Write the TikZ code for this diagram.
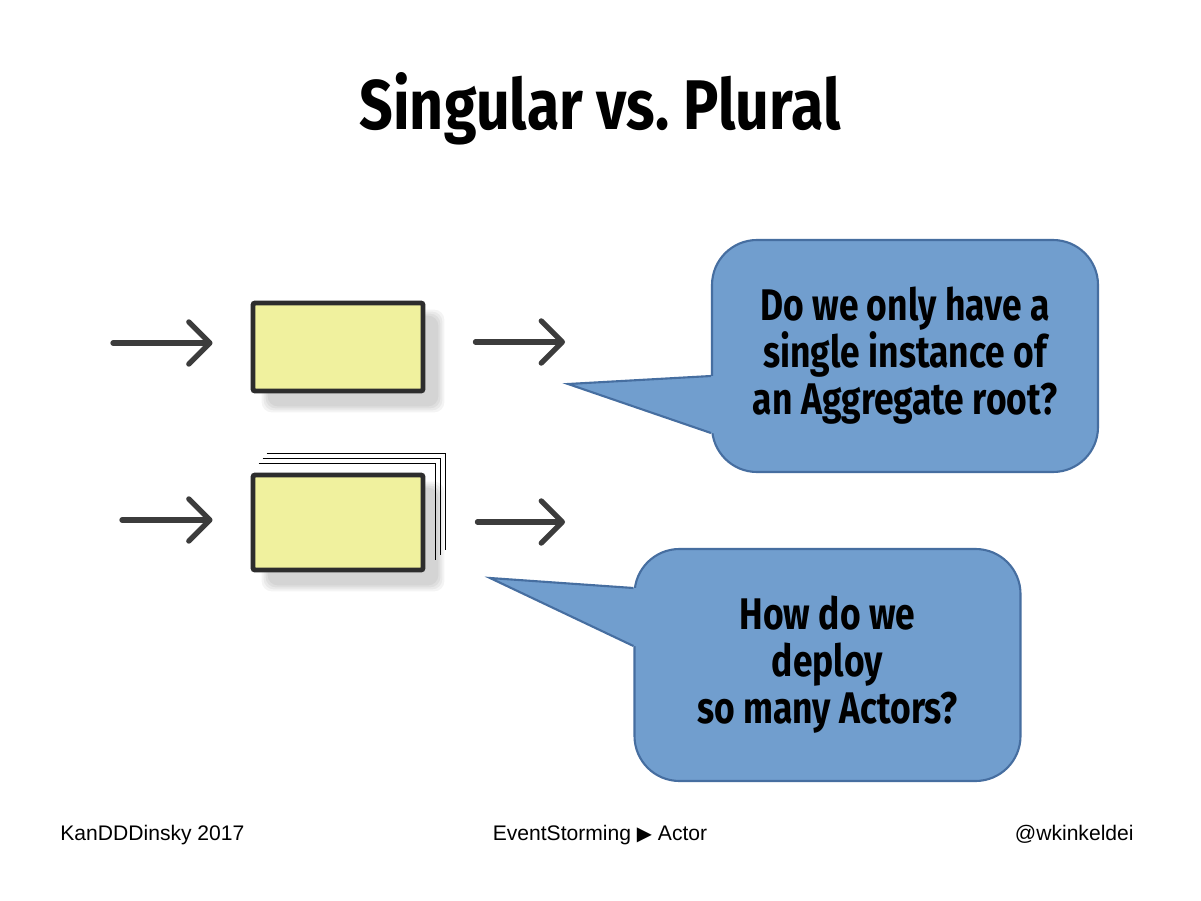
\documentclass[tikz,border=0pt]{standalone}
\usepackage{fontspec}
\setmainfont{Liberation Sans}
\newfontfamily\chalk[FakeStretch=0.80]{Fira Sans}
\newfontfamily\chalkhead[FakeStretch=0.84]{Fira Sans}
\newfontfamily\symb{DejaVu Sans}
\usetikzlibrary{arrows.meta,calc,backgrounds}
\begin{document}
\begin{tikzpicture}[
  card/.style={draw=cardline, fill=cardfill, line width=1.4pt, rounded corners=0.6pt, minimum width=1.70cm, inner sep=0pt},
  flow/.style={draw=flowgray, line width=1.5pt, line cap=round, -{Straight Barb[length=6pt,width=12pt,round]}},
  bubble/.style={draw=bubbleline, fill=bubblefill, line width=0.6pt, rounded corners=0.45cm, minimum width=3.86cm, minimum height=2.32cm, align=center, font=\chalk\bfseries\fontsize{12.6}{13.4}\selectfont},
  tail/.style={draw=bubbleline, line width=0.6pt, line join=miter},
  stackline/.style={black, line width=0.5pt},
  footer/.style={font=\fontsize{6}{7}\selectfont}
]
\definecolor{cardfill}{RGB}{240,241,158}
\definecolor{cardline}{RGB}{45,45,45}
\definecolor{flowgray}{RGB}{60,60,60}
\definecolor{bubblefill}{RGB}{113,158,206}
\definecolor{bubbleline}{RGB}{70,110,160}
\useasboundingbox (0,0) rectangle (12.01,-9.01);
\node[font=\chalkhead\bfseries\fontsize{20}{24}\selectfont, anchor=base] (title) at (6.0,-1.30) {Singular vs.\ Plural};
\node[card, minimum height=0.88cm] (b1) at (3.38,-3.47) {};
\node[card, minimum height=0.95cm] (b2) at (3.38,-5.225) {};
\begin{scope}[on background layer]
\fill[white] (0,0) rectangle (12.01,-9.01);
\foreach \b in {b1,b2}
  \foreach \s in {0,0.02,0.04,0.06}
    \fill[black, opacity=0.045, rounded corners=3pt] ($(\b.south west)+(0.11+\s,-0.19+\s)$) rectangle ($(\b.north east)+(0.19-\s,-0.09-\s)$);
\end{scope}
\foreach \k in {1,2,3}
  \draw[stackline] ($(b2.north west)+({0.04+0.04*\k},{0.04+0.05*\k})$) -| ($(b2.south east)+({0.05+0.05*\k},{0.07+0.05*\k})$);
\coordinate (in1) at (1.13,-3.43);
\coordinate (out1) at (5.65,-3.42);
\coordinate (in2) at (1.22,-5.20);
\coordinate (out2) at (5.65,-5.22);
\draw[flow, shorten >=0.38cm] (in1) -- (in1 -| b1.west);
\draw[flow, shorten <=0.50cm] (out1 -| b1.east) -- (out1);
\draw[flow, shorten >=0.38cm] (in2) -- (in2 -| b2.west);
\draw[flow, shorten <=0.52cm] (out2 -| b2.east) -- (out2);
\node[bubble] (q1) at (9.05,-3.56) {Do we only have a\\single instance of\\an Aggregate root?};
\coordinate (t1) at (5.68,-3.84);
\fill[bubblefill] ($(q1.west)+(0,-0.20)$) -- (t1) -- ($(q1.west)+(0,-0.77)$) -- ($(q1.west)+(0.05,-0.77)$) -- ($(q1.west)+(0.05,-0.20)$) -- cycle;
\draw[tail] ($(q1.west)+(0,-0.20)$) -- (t1) -- ($(q1.west)+(0,-0.77)$);
\node[bubble] (q2) at (8.275,-6.65) {How do we\\deploy\\so many Actors?};
\coordinate (t2) at (4.90,-5.78);
\fill[bubblefill] ($(q2.west)+(0,0.77)$) -- (t2) -- ($(q2.west)+(0,0.19)$) -- ($(q2.west)+(0.05,0.19)$) -- ($(q2.west)+(0.05,0.77)$) -- cycle;
\draw[tail] ($(q2.west)+(0,0.77)$) -- (t2) -- ($(q2.west)+(0,0.19)$);
\node[footer, anchor=base west] (conf) at (0.48,-8.40) {KanDDDinsky 2017};
\node[footer, anchor=base] (topic) at (6.00,-8.40) {EventStorming {\symb\fontsize{5.6}{6}\selectfont ▶} Actor};
\node[footer, anchor=base east] (handle) at (11.46,-8.40) {@wkinkeldei};
\end{tikzpicture}
\end{document}
